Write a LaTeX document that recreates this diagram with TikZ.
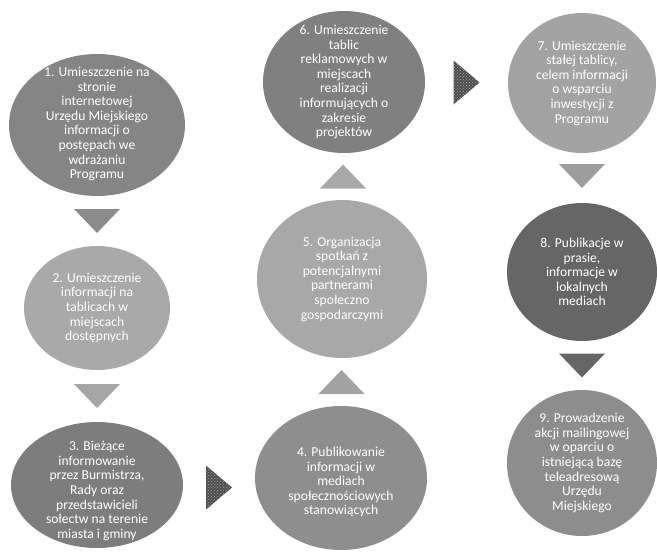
\documentclass[tikz,border=0pt]{standalone}
\usepackage{fontspec}
\setmainfont{Carlito}
\usetikzlibrary{shapes.geometric}
\usetikzlibrary{calc}
\usetikzlibrary{patterns}
\definecolor{gOne}{HTML}{858585}
\definecolor{gTwo}{HTML}{A9A9A9}
\definecolor{gThree}{HTML}{7D7D7D}
\definecolor{gFour}{HTML}{8E8E8E}
\definecolor{gFive}{HTML}{A8A8A8}
\definecolor{gSix}{HTML}{808080}
\definecolor{gSeven}{HTML}{A3A3A3}
\definecolor{gEight}{HTML}{666666}
\definecolor{gNine}{HTML}{8D8D8D}
\definecolor{triDark}{HTML}{4E4E4E}
\tikzset{bubble/.style = {ellipse, fill=#1, inner sep = 0}}
\tikzset{txt/.style = {text=white, align=center, inner sep = 0,
                       font=\fontsize{13.6}{14.6}\selectfont}}
\tikzset{tridown/.pic = {\fill (-23,-12) -- (23,-12) -- (0,12) -- cycle;}}
\tikzset{triup/.pic = {\fill (-23,12) -- (23,12) -- (0,-12) -- cycle;}}
\tikzset{triright/.pic = {\fill[triDark, postaction={pattern=crosshatch dots, pattern color=gray!70}]
                            (-13,-22) -- (13,0) -- (-13,22) -- cycle;}}

\begin{document}
\begin{tikzpicture}[x=1pt, y=-1pt]
    \useasboundingbox [fill=white] (0, 0) rectangle (657, 555);

    % left column
    \node [bubble=gOne, minimum width=176, minimum height=142,
           label={[txt, yshift=1pt]center:{1. Umieszczenie na\\stronie\\internetowej\\Urzędu Miejskiego\\informacji o\\postępach we\\wdrażaniu\\Programu}}] (c1) at (97, 125) {};
    \node [bubble=gTwo, minimum width=146, minimum height=124,
           label={[txt]center:{2. Umieszczenie\\informacji na\\tablicach w\\miejscach\\dostępnych}}] (c2) at (97, 308) {};
    \node [bubble=gThree, minimum width=172, minimum height=126,
           label={[txt, yshift=-6pt]center:{3. Bieżące\\informowanie\\przez Burmistrza,\\Rady oraz\\przedstawicieli\\sołectw na terenie\\miasta i gminy}}] (c3) at (97, 485) {};

    % middle column
    \node [bubble=gFour, minimum width=172, minimum height=144,
           label={[txt, yshift=-4pt]center:{4. Publikowanie\\informacji w\\mediach\\społecznościowych\\stanowiących}}] (c4) at (341, 478) {};
    \node [bubble=gFive, minimum width=170, minimum height=158,
           label={[txt]center:{5. Organizacja\\spotkań z\\potencjalnymi\\partnerami\\społeczno\\gospodarczymi}}] (c5) at (342, 279) {};
    \node [bubble=gSix, minimum width=162, minimum height=142,
           label={[txt]center:{6. Umieszczenie\\tablic\\reklamowych w\\miejscach\\realizacji\\informujących o\\zakresie\\projektów}}] (c6) at (344, 82) {};

    % right column
    \node [bubble=gSeven, minimum width=148, minimum height=140,
           label={[txt]center:{7. Umieszczenie\\stałej tablicy,\\celem informacji\\o wsparciu\\inwestycji z\\Programu}}] (c7) at (582, 83) {};
    \node [bubble=gEight, minimum width=150, minimum height=138,
           label={[txt]center:{8. Publikacje w\\prasie,\\informacje w\\lokalnych\\mediach}}] (c8) at (582, 272) {};
    \node [bubble=gNine, minimum width=150, minimum height=146,
           label={[txt]center:{9. Prowadzenie\\akcji mailingowej\\w oparciu o\\istniejącą bazę\\teleadresową\\Urzędu\\Miejskiego}}] (c9) at (582, 463) {};

    % triangles between the steps
    \coordinate (t12) at ($(c1.south)!0.5!(c2.north)$);
    \coordinate (t23) at ($(c2.south)!0.5!(c3.north)$);
    \coordinate (t34) at ($(c3.east)!0.5!(c4.west)$);
    \coordinate (t45) at ($(c4.north)!0.5!(c5.south)$);
    \coordinate (t56) at ($(c5.north)!0.5!(c6.south)$);
    \coordinate (t67) at ($(c6.east)!0.5!(c7.west)$);
    \coordinate (t78) at ($(c7.south)!0.5!(c8.north)$);
    \coordinate (t89) at ($(c8.south)!0.5!(c9.north)$);

    \pic [fill=gray!110!black] at (t12) {tridown};
    \pic [fill=gray!70] at (t23) {tridown};
    \pic at ([yshift=-6pt]t34) {triright};
    \pic [fill=gray!72] at (t45) {triup};
    \pic [fill=gray!68] at (t56) {triup};
    \pic at (t67) {triright};
    \pic [fill=gray!77] at ([yshift=2pt]t78) {tridown};
    \pic [fill=gEight] at (t89) {tridown};
\end{tikzpicture}
\end{document}
